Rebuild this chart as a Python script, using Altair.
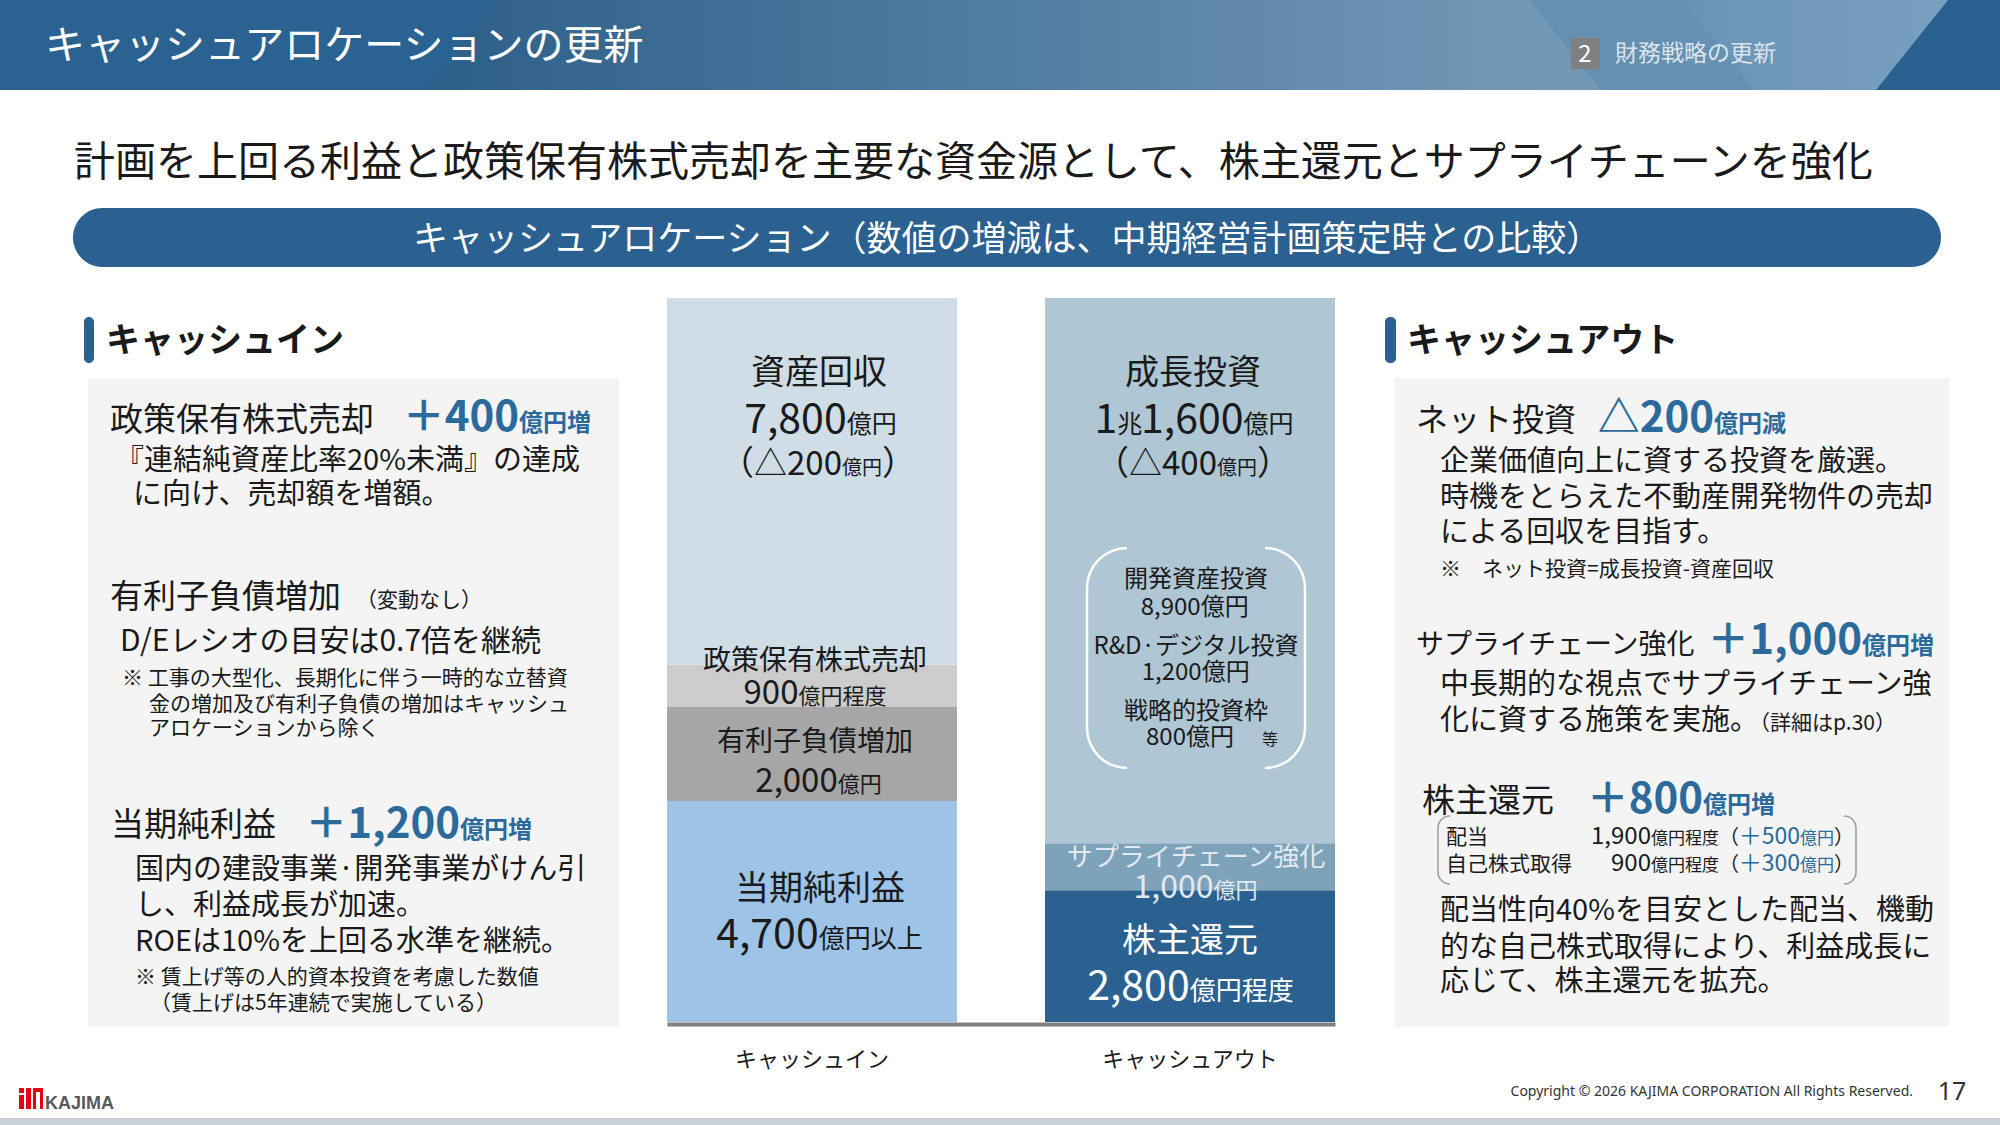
import math
import altair as alt
import pandas as pd

# ---------------- chart values ----------------
columns = ["キャッシュイン", "キャッシュアウト"]
in_segments = ["当期純利益", "有利子負債増加", "政策保有株式売却", "資産回収"]
in_values = [4700, 2000, 900, 7800]
out_segments = ["株主還元", "サプライチェーン強化", "成長投資"]
out_values = [2800, 1000, 11600]
in_colors = ["#9dc3e6", "#a6a6a6", "#cccccc", "#cfdde7"]
out_colors = ["#2a6190", "#7ea2b9", "#afc6d5"]

# ---------------- page geometry ----------------
PAGE_W, PAGE_H = 2000, 1125
X0, Y0 = 667, 298          # plot area origin on the page
PW, PH = 668, 724          # plot area size
HEAD_H = 90

JP = "Noto Sans CJK JP"
DARK = "#1a1a1a"
BLUE = "#2b6a9b"
LIGHT = "#e2eaf0"


def px(x):
    return x - X0


def py(y):
    return y - Y0


# ---------------- text helpers ----------------
texts = []


def T(x, y, s, size, color=DARK, weight="normal", align="left", font=JP):
    texts.append(dict(x=px(x), y=py(y), text=s, size=size, color=color,
                      weight=weight, align=align, font=font))


def tw(s, f, bold=False):
    w = 0.0
    for ch in s:
        if ch in "0123456789":
            w += 0.555
        elif ch in ",.":
            w += 0.25
        elif ch == " ":
            w += 0.224
        elif ch == "%":
            w += 0.84
        elif ch == "&":
            w += 0.68
        elif ch == "·":
            w += 0.27
        elif ord(ch) < 128:
            w += 0.6
        else:
            w += 1.0
    return w * f * (1.05 if bold else 1.0)


def is_cjk(s):
    return all(ord(c) > 0x2000 for c in s)


def runs(cx, y, parts, color=DARK, weight="normal"):
    if len(parts) == 1:
        T(cx, y, parts[0][0], parts[0][1], color, weight, "center")
        return
    widths = [tw(s, f, weight == "bold") for s, f in parts]
    x = cx - sum(widths) / 2
    for (s, f), w in zip(parts, widths):
        if is_cjk(s):
            T(x, y, s, f, color, weight, "left")
        else:
            T(x + w, y, s, f, color, weight, "right")
        x += w


# ---------------- shapes ----------------
def R(x1, y1, x2, y2, color):
    return dict(x=px(x1), x2=px(x2), y=py(y1), y2=py(y2), color=color)


def rect_layer(rows, **mark):
    return alt.Chart(pd.DataFrame(rows)).mark_rect(**mark).encode(
        x=alt.X("x:Q", scale=None, axis=None), x2="x2:Q",
        y=alt.Y("y:Q", scale=None, axis=None), y2="y2:Q",
        color=alt.Color("color:N", scale=None, legend=None),
    )


def rule_layer(rows):
    return alt.Chart(pd.DataFrame(rows)).mark_rule().encode(
        x=alt.X("x:Q", scale=None, axis=None), x2="x2:Q",
        y=alt.Y("y:Q", scale=None, axis=None), y2="y2:Q",
        strokeWidth=alt.StrokeWidth("w:Q", scale=None, legend=None),
        color=alt.Color("color:N", scale=None, legend=None),
    )


def band(xt, xb, side, W, color, h=HEAD_H):
    """thick slanted rule whose one long edge runs from (xt,0) to (xb,h)"""
    L = math.hypot(xb - xt, h)
    dx, dy = (xb - xt) / L, h / L
    if side == "right":
        nx, ny = dy, -dx
    else:
        nx, ny = -dy, dx
    ox, oy = nx * W / 2, ny * W / 2
    ext = abs(dx) * W / dy + 6
    p1 = (xt - dx * ext + ox, 0 - dy * ext + oy)
    p2 = (xb + dx * ext + ox, h + dy * ext + oy)
    return dict(x=px(p1[0]), y=py(p1[1]), x2=px(p2[0]), y2=py(p2[1]), w=W, color=color)


one = pd.DataFrame({"k": [0]})

layers = []

# header background
head_grad = {"gradient": "linear", "x1": 0, "x2": 1, "y1": 0, "y2": 0,
             "stops": [{"offset": 0, "color": "#2a6391"},
                       {"offset": 0.215, "color": "#2c5f89"},
                       {"offset": 0.765, "color": "#7398b5"},
                       {"offset": 1, "color": "#7398b5"}]}
layers.append(alt.Chart(one).mark_rect(color=head_grad).encode(
    x=alt.value(px(0)), x2=alt.value(px(PAGE_W)), y=alt.value(py(0)), y2=alt.value(py(HEAD_H))))
light_grad = {"gradient": "linear", "x1": 0, "x2": 1, "y1": 0, "y2": 0,
              "stops": [{"offset": 0, "color": "#6590b2"},
                        {"offset": 1, "color": "#7ba2c1"}]}
layers.append(alt.Chart(one).mark_rect(color=light_grad).encode(
    x=alt.value(px(1601)), x2=alt.value(px(PAGE_W)), y=alt.value(py(0)), y2=alt.value(py(HEAD_H))))
layers.append(rect_layer([R(0, 0, 428, HEAD_H, "#2a6391"),
                          R(1948, 0, PAGE_W, HEAD_H, "#28618f")]))
layers.append(rule_layer([band(497, 427, "left", 120, "#2a6391"),
                          band(1529, 1601, "right", 120, "#6590b2"),
                          band(1948, 1876, "right", 120, "#28618f")]))

# plain rectangles (white cover, panels, labels, footer)
red = "#e60012"
layers.append(rect_layer([
    R(0, HEAD_H, PAGE_W, 296, "white"),
    R(1571, 38, 1600, 69, "#808080"),
    R(88, 378, 619, 1027, "#f4f4f4"),
    R(1394, 378, 1949, 1027, "#f4f4f4"),
    R(0, 1118, PAGE_W, PAGE_H, "#c8d1d9"),
    R(19, 1088, 24, 1093, red), R(19, 1095, 24, 1109, red),
    R(26, 1088, 31, 1109, red),
    R(33, 1088, 43, 1092, red), R(33, 1088, 36, 1109, red), R(40, 1088, 43, 1109, red),
]))
# rounded shapes
layers.append(rect_layer([R(73, 208, 1941, 267, "#2a6190")], cornerRadius=29.5))
layers.append(rect_layer([R(84, 317, 94, 363, "#2a6190"),
                          R(1385, 317, 1396, 363, "#2a6190")], cornerRadius=5))

# ---------------- stacked bars ----------------
bar_rows = []
for i, (s, v) in enumerate(zip(in_segments, in_values)):
    bar_rows.append({"column": columns[0], "segment": s, "value": v, "order": i})
for i, (s, v) in enumerate(zip(out_segments, out_values)):
    bar_rows.append({"column": columns[1], "segment": s, "value": v, "order": i})
bar_df = pd.DataFrame(bar_rows)
total = sum(in_values)

bars = alt.Chart(bar_df).mark_bar(strokeWidth=0).encode(
    x=alt.X("column:N", sort=columns, title=None,
            scale=alt.Scale(domain=columns, paddingInner=0.233, paddingOuter=0),
            axis=alt.Axis(labelAngle=0, ticks=False, grid=False, domainColor="#7f7f7f",
                          domainWidth=4, offset=2, labelFont=JP, labelFontSize=22,
                          labelColor=DARK, labelPadding=25)),
    y=alt.Y("value:Q", stack="zero", axis=None,
            scale=alt.Scale(domain=[0, total], nice=False)),
    color=alt.Color("segment:N", legend=None,
                    scale=alt.Scale(domain=in_segments + out_segments,
                                    range=in_colors + out_colors)),
    order=alt.Order("order:Q"),
)
layers.append(bars)

# ---------------- brackets ----------------
layers.append(rule_layer([
    dict(x=px(1087), x2=px(1087), y=py(588), y2=py(728), w=2.5, color="white"),
    dict(x=px(1305), x2=px(1305), y=py(588), y2=py(728), w=2.5, color="white"),
    dict(x=px(1438), x2=px(1438), y=py(828), y2=py(872), w=1.5, color="#9a9a9a"),
    dict(x=px(1856), x2=px(1856), y=py(828), y2=py(872), w=1.5, color="#9a9a9a"),
]))
arcs = []
PI = math.pi


def A(cx, cy, t1, t2, r, w, color):
    arcs.append(dict(x=px(cx), y=py(cy), t1=t1, t2=t2, ro=r + w / 2, ri=r - w / 2, color=color))


for (cx, cy, t1, t2) in [(1127, 588, 1.5 * PI, 2 * PI), (1127, 728, PI, 1.5 * PI),
                         (1265, 588, 0, 0.5 * PI), (1265, 728, 0.5 * PI, PI)]:
    A(cx, cy, t1, t2, 40, 2.5, "white")
for (cx, cy, t1, t2) in [(1450, 828, 1.5 * PI, 2 * PI), (1450, 872, PI, 1.5 * PI),
                         (1844, 828, 0, 0.5 * PI), (1844, 872, 0.5 * PI, PI)]:
    A(cx, cy, t1, t2, 12, 1.5, "#9a9a9a")
layers.append(alt.Chart(pd.DataFrame(arcs)).mark_arc().encode(
    x=alt.X("x:Q", scale=None, axis=None), y=alt.Y("y:Q", scale=None, axis=None),
    theta=alt.Theta("t1:Q", scale=None, stack=None), theta2=alt.Theta2("t2:Q"),
    radius=alt.Radius("ro:Q", scale=None), radius2=alt.Radius2("ri:Q"),
    color=alt.Color("color:N", scale=None, legend=None),
))

# ---------------- texts ----------------
# header
T(45, 59, "キャッシュアロケーションの更新", 40, "white")
T(1585, 62, "2", 24, "white", align="center")
T(1615, 61, "財務戦略の更新", 23, "#dde4ea")
T(74, 176, "計画を上回る利益と政策保有株式売却を主要な資金源として、株主還元とサプライチェーンを強化", 41)
T(1007, 251, "キャッシュアロケーション（数値の増減は、中期経営計画策定時との比較）", 35, "white", align="center")

# cash in panel
T(106, 352, "キャッシュイン", 34, DARK, "bold")
T(110, 431, "政策保有株式売却", 33)
T(519, 431, "＋400", 42, BLUE, "bold", "right")
T(519, 431, "億円増", 24, BLUE, "bold")
T(115, 470, "『連結純資産比率20%未満』の達成", 29)
T(133, 504, "に向け、売却額を増額。", 29)
T(110, 608, "有利子負債増加", 33)
T(356, 607, "（変動なし）", 21)
T(120, 651, "D/Eレシオの目安は0.7倍を継続", 30)
T(122, 685, "※ 工事の大型化、長期化に伴う一時的な立替資", 21)
T(149, 711, "金の増加及び有利子負債の増加はキャッシュ", 21)
T(149, 735, "アロケーションから除く", 21)
T(111, 836, "当期純利益", 33)
T(460, 838, "＋1,200", 42, BLUE, "bold", "right")
T(460, 838, "億円増", 24, BLUE, "bold")
T(135, 879, "国内の建設事業·開発事業がけん引", 29)
T(135, 915, "し、利益成長が加速。", 29)
T(135, 951, "ROEは10%を上回る水準を継続。", 29)
T(135, 984, "※ 賃上げ等の人的資本投資を考慮した数値", 21)
T(150, 1010, "（賃上げは5年連続で実施している）", 21)

# cash out panel
T(1407, 352, "キャッシュアウト", 34, DARK, "bold")
T(1416, 431, "ネット投資", 32)
T(1714, 432, "△200", 42, BLUE, "bold", "right")
T(1714, 432, "億円減", 24, BLUE, "bold")
T(1440, 471, "企業価値向上に資する投資を厳選。", 29)
T(1440, 507, "時機をとらえた不動産開発物件の売却", 29)
T(1440, 542, "による回収を目指す。", 29)
T(1440, 576, "※　ネット投資=成長投資-資産回収", 21)
T(1416, 654, "サプライチェーン強化", 28)
T(1862, 654, "＋1,000", 42, BLUE, "bold", "right")
T(1862, 654, "億円増", 24, BLUE, "bold")
T(1440, 694, "中長期的な視点でサプライチェーン強", 29)
T(1440, 730, "化に資する施策を実施。", 29)
T(1749, 730, "（詳細はp.30）", 21)
T(1422, 812, "株主還元", 33)
T(1703, 813, "＋800", 42, BLUE, "bold", "right")
T(1703, 813, "億円増", 24, BLUE, "bold")
for yy, lab, num, add in [(844, "配当", "1,900", "＋500"), (871, "自己株式取得", "900", "＋300")]:
    T(1446, yy, lab, 21)
    T(1651, yy, num, 24, align="right")
    T(1651, yy, "億円程度", 17)
    T(1719, yy, "（", 20)
    T(1800, yy, add, 23, BLUE, align="right")
    T(1800, yy, "億円", 17, BLUE)
    T(1834, yy, "）", 20)
T(1440, 920, "配当性向40%を目安とした配当、機動", 29)
T(1440, 957, "的な自己株式取得により、利益成長に", 29)
T(1440, 991, "応じて、株主還元を拡充。", 29)

# bar labels
runs(819, 384, [("資産回収", 34)])
runs(821, 433, [("7,800", 41), ("億円", 25)])
runs(818, 475, [("（", 34), ("△200", 33), ("億円", 20), ("）", 34)])
runs(1193, 384, [("成長投資", 34)])
runs(1194, 433, [("1", 41), ("兆", 25), ("1,600", 41), ("億円", 25)])
runs(1193, 475, [("（", 34), ("△400", 33), ("億円", 20), ("）", 34)])
runs(815, 670, [("政策保有株式売却", 28)])
runs(815, 704, [("900", 33), ("億円程度", 22)])
runs(815, 751, [("有利子負債増加", 28)])
runs(819, 792, [("2,000", 33), ("億円", 22)])
runs(820, 900, [("当期純利益", 34)])
runs(820, 948, [("4,700", 41), ("億円以上", 26)])
runs(1196, 866, [("サプライチェーン強化", 26)], color=LIGHT)
runs(1196, 898, [("1,000", 32), ("億円", 22)], color=LIGHT)
runs(1190, 952, [("株主還元", 34)], color="white")
runs(1191, 1000, [("2,800", 41), ("億円程度", 26)], color="white")
runs(1196, 587, [("開発資産投資", 24)])
runs(1195, 615, [("8,900", 24), ("億円", 24)])
runs(1196, 654, [("R&D·デジタル投資", 24)])
runs(1196, 680, [("1,200", 24), ("億円", 24)])
runs(1196, 719, [("戦略的投資枠", 24)])
runs(1190, 745, [("800", 24), ("億円", 24)])
T(1262, 745, "等", 16)

# footer
T(1913, 1096, "Copyright © 2026 KAJIMA CORPORATION All Rights Reserved.", 14, "#333333",
  align="right", font="Noto Sans")
T(1952, 1100, "17", 25, "#333333", align="center", font="Noto Sans")
T(45, 1109, "KAJIMA", 18, "#595959", "bold", font="Liberation Sans")

tdf = pd.DataFrame(texts)
for (weight, align, font), g in tdf.groupby(["weight", "align", "font"], sort=False):
    layers.append(
        alt.Chart(g[["x", "y", "text", "size", "color"]].reset_index(drop=True))
        .mark_text(align=align, baseline="alphabetic", font=font, fontWeight=weight)
        .encode(
            x=alt.X("x:Q", scale=None, axis=None),
            y=alt.Y("y:Q", scale=None, axis=None),
            text="text:N",
            size=alt.Size("size:Q", scale=None, legend=None),
            color=alt.Color("color:N", scale=None, legend=None),
        )
    )

chart = (
    alt.layer(*layers)
    .resolve_scale(x="independent", y="independent", color="independent",
                   size="independent", strokeWidth="independent",
                   theta="independent", radius="independent")
    .properties(
        width=PW, height=PH,
        padding={"left": X0, "top": Y0, "right": PAGE_W - X0 - PW, "bottom": PAGE_H - Y0 - PH},
        autosize=alt.AutoSizeParams(type="none"),
        background="white",
    )
    .configure_view(strokeWidth=0)
)

chart.save("out.html", embed_options={"renderer": "svg", "actions": False})
